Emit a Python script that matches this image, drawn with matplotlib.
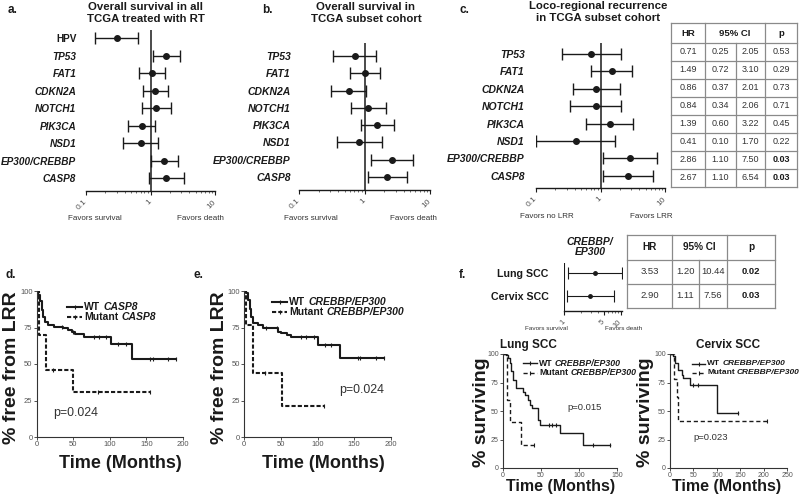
import matplotlib
matplotlib.use('Agg')
import matplotlib.pyplot as plt
from matplotlib.lines import Line2D
import numpy as np

plt.rcParams['font.family'] = ['Liberation Sans', 'DejaVu Sans']

W, H = 799, 497
fig = plt.figure(figsize=(W / 100, H / 100), dpi=100)
renderer = fig.canvas.get_renderer()

DARK = '#1a1a1a'
GRAY = '#555555'

# ---------------- data ----------------
genes_a = ['HPV', 'TP53', 'FAT1', 'CDKN2A', 'NOTCH1', 'PIK3CA', 'NSD1', 'EP300/CREBBP', 'CASP8']
hr_a = [0.30, 1.75, 1.05, 1.18, 1.22, 0.73, 0.71, 1.63, 1.75]
lo_a = [0.14, 1.11, 0.67, 0.76, 0.73, 0.44, 0.38, 1.00, 0.96]
hi_a = [0.65, 2.83, 1.69, 1.88, 2.07, 1.18, 1.32, 2.70, 3.27]

genes_bc = ['TP53', 'FAT1', 'CDKN2A', 'NOTCH1', 'PIK3CA', 'NSD1', 'EP300/CREBBP', 'CASP8']
hr_b = [0.71, 1.02, 0.57, 1.15, 1.56, 0.83, 2.61, 2.21]
lo_b = [0.33, 0.60, 0.31, 0.63, 0.88, 0.38, 1.24, 1.14]
hi_b = [1.49, 1.74, 1.07, 2.15, 2.80, 1.84, 5.50, 4.43]

hr_c = [0.71, 1.49, 0.86, 0.84, 1.39, 0.41, 2.86, 2.67]
lo_c = [0.25, 0.72, 0.37, 0.34, 0.60, 0.10, 1.10, 1.10]
hi_c = [2.05, 3.10, 2.01, 2.06, 3.22, 1.70, 7.50, 6.54]
p_c = [0.53, 0.29, 0.73, 0.71, 0.45, 0.22, 0.03, 0.03]

cancers_f = ['Lung SCC', 'Cervix SCC']
hr_f = [3.53, 2.90]
lo_f = [1.20, 1.11]
hi_f = [10.44, 7.56]
p_f = [0.02, 0.03]

forest_ticks = [0.1, 1, 10]
forest_ticklabels = ['0.1', '1', '10']
f_ticks = [1, 5, 10]
f_ticklabels = ['1', '5', '10']

# Kaplan-Meier curves (time in months, % free / surviving)
d_wt_t = [0, 2.3, 4.5, 6.8, 9.1, 11.4, 16, 23, 36, 43, 48, 52, 64, 102, 130, 190]
d_wt_s = [100, 97, 93, 87, 82, 79, 77, 75.5, 74.4, 73, 72, 70.3, 68.6, 64, 53.3, 53.3]
d_wt_c = [34, 50, 78, 85, 95, 111, 122, 155, 159, 180, 190]
d_mu_t = [0, 3, 12.3, 49, 155]
d_mu_s = [100, 69.8, 46.2, 31, 31]
d_mu_c = [22, 84, 155]

e_wt_t = [0, 3.2, 5.5, 7.7, 10, 12.3, 19, 26, 37, 46, 51, 58, 64.5, 101, 130, 190]
e_wt_s = [100, 98.4, 93.8, 88, 82.4, 77.8, 76.7, 74.8, 74.4, 72, 71, 69.8, 68.6, 63, 54.2, 54.2]
e_wt_c = [30, 45, 78, 85, 95, 110, 118, 155, 158, 180, 190]
e_mu_t = [0, 3, 12, 52, 109]
e_mu_s = [100, 76.7, 44, 21.3, 21.3]
e_mu_c = [28, 109]

lung_wt_t = [0, 4.4, 6.6, 8.8, 11, 13.2, 17.6, 26.5, 28.7, 33, 35.3, 38.4, 45.4, 48.5, 75, 105.9, 141]
lung_wt_s = [100, 99.4, 96.5, 92, 84.7, 77.4, 70.6, 67, 64, 59.7, 55.3, 52.4, 42, 37.6, 30.3, 20, 20]
lung_wt_c = [60, 65, 70, 118, 141]
lung_mu_t = [0, 5.7, 8.8, 24, 41]
lung_mu_s = [100, 59.7, 40, 20, 20]
lung_mu_c = [41]

cx_wt_t = [0, 5.7, 10.7, 17.9, 25, 28.6, 43, 100, 146]
cx_wt_s = [100, 98, 92, 86, 82, 79, 73, 48.2, 48.2]
cx_wt_c = [50, 60, 146]
cx_mu_t = [0, 8.6, 14, 18, 207]
cx_mu_s = [100, 78, 62, 41.5, 41.5]
cx_mu_c = [207]


# ---------------- helpers ----------------
def ax_px(x0, y0, x1, y1):
    return fig.add_axes([x0 / W, 1 - y1 / H, (x1 - x0) / W, (y1 - y0) / H])


def ftext(x, y, s, **kw):
    kw.setdefault('color', DARK)
    return fig.text(x / W, 1 - y / H, s, **kw)


def rich(x, y, parts, size, color=DARK):
    """parts: list of (text, style); all bold, separated by spaces"""
    cx = x
    gap = 0.278 * size * 100 / 72
    for s, style in parts:
        t = ftext(cx, y, s, fontsize=size, fontweight='bold', fontstyle=style,
                  va='center', ha='left', color=color)
        bb = t.get_window_extent(renderer)
        cx += bb.width + gap


def forest(box, labels, hr, lo, hi, xlim, ylim, ticks, ticklabels, label_pad,
           label_size=7.5, italic=True, ms=4, capsize=4.5, lw=1.0, tick_size=6):
    ax = ax_px(*box)
    ax.set_xscale('log')
    idx = np.arange(len(labels))
    hr = np.array(hr); lo = np.array(lo); hi = np.array(hi)
    ax.errorbar(hr, idx, xerr=[hr - lo, hi - hr], fmt='o', color=DARK, ms=ms,
                capsize=capsize, elinewidth=lw, capthick=lw, zorder=3)
    ax.axvline(1, color=DARK, lw=1.1, zorder=2)
    ax.set_xlim(*xlim)
    ax.set_ylim(*ylim)
    for sp in ['left', 'right', 'top']:
        ax.spines[sp].set_visible(False)
    ax.spines['bottom'].set_color(DARK)
    ax.spines['bottom'].set_linewidth(1.0)
    ax.set_yticks(idx)
    ax.set_yticklabels(labels, fontsize=label_size, fontweight='bold',
                       fontstyle='italic' if italic else 'normal', color=DARK)
    ax.tick_params(axis='y', length=0, pad=label_pad)
    ax.set_xticks(ticks)
    ax.set_xticklabels(ticklabels, rotation=45, ha='right', va='center',
                       rotation_mode='anchor', fontsize=tick_size, color=GRAY)
    ax.tick_params(axis='x', which='major', length=3, width=0.8, color=DARK, pad=4)
    ax.tick_params(axis='x', which='minor', length=1.5, width=0.6, color=GRAY)
    ax.xaxis.set_minor_formatter(matplotlib.ticker.NullFormatter())
    ax.patch.set_alpha(0)
    return ax


def table_axes(box):
    x0, y0, x1, y1 = box
    ax = ax_px(x0, y0, x1, y1)
    ax.set_xlim(x0, x1)
    ax.set_ylim(y1, y0)
    ax.axis('off')
    return ax


def draw_table(box, cols, rows, split_col, rows_data, pvals, size, header_size):
    ax = table_axes((box[0], box[1], box[2], box[3]))
    lc = '#8a8a8a'
    lw = 0.9
    top, bottom = rows[0], rows[-1]
    for y in rows:
        ax.plot([cols[0], cols[-1]], [y, y], color=lc, lw=lw, clip_on=False)
    for x in cols:
        ax.plot([x, x], [top, bottom], color=lc, lw=lw, clip_on=False)
    ax.plot([split_col, split_col], [rows[1], bottom], color=lc, lw=lw, clip_on=False)
    hy = (rows[0] + rows[1]) / 2
    ax.text((cols[0] + cols[1]) / 2, hy, 'HR', ha='center', va='center',
            fontsize=header_size, fontweight='bold', color=DARK)
    ax.text((cols[1] + cols[2]) / 2, hy, '95% CI', ha='center', va='center',
            fontsize=header_size, fontweight='bold', color=DARK)
    ax.text((cols[2] + cols[3]) / 2, hy, 'p', ha='center', va='center',
            fontsize=header_size, fontweight='bold', color=DARK)
    centers_x = [(cols[0] + cols[1]) / 2, (cols[1] + split_col) / 2,
                 (split_col + cols[2]) / 2, (cols[2] + cols[3]) / 2]
    for i, (vals, p) in enumerate(zip(rows_data, pvals)):
        y = (rows[i + 1] + rows[i + 2]) / 2
        for j, v in enumerate(vals):
            ax.text(centers_x[j], y, f'{v:.2f}', ha='center', va='center',
                    fontsize=size, color='#333333')
        ax.text(centers_x[3], y, f'{p:.2f}', ha='center', va='center', fontsize=size,
                color=DARK if p < 0.05 else '#333333',
                fontweight='bold' if p < 0.05 else 'normal')


def step_val(t, s, c):
    t = np.asarray(t); s = np.asarray(s)
    i = np.searchsorted(t, np.asarray(c), side='right') - 1
    return s[np.clip(i, 0, len(s) - 1)]


def km(box, xmax, xticks, wt, mu, lw, dash, tick_size=5.5):
    ax = ax_px(*box)
    (wt_t, wt_s, wt_c), (mu_t, mu_s, mu_c) = wt, mu
    ax.step(wt_t, wt_s, where='post', color=DARK, lw=lw)
    ax.plot(wt_c, step_val(wt_t, wt_s, wt_c), ls='none', marker='|', ms=3,
            mew=0.8, color=DARK)
    ax.step(mu_t, mu_s, where='post', color=DARK, lw=lw, ls=(0, dash))
    ax.plot(mu_c, step_val(mu_t, mu_s, mu_c), ls='none', marker='|', ms=3,
            mew=0.8, color=DARK)
    ax.set_xlim(0, xmax)
    ax.set_ylim(0, 100)
    ax.set_xticks(xticks)
    ax.set_yticks([0, 25, 50, 75, 100])
    for sp in ['right', 'top']:
        ax.spines[sp].set_visible(False)
    for sp in ['left', 'bottom']:
        ax.spines[sp].set_color('#333333')
        ax.spines[sp].set_linewidth(0.8)
    ax.tick_params(length=2, width=0.6, color='#333333', labelsize=tick_size,
                   labelcolor=GRAY, pad=1)
    ax.patch.set_alpha(0)
    return ax


def legend_rows(x_line0, x_line1, x_text, ys, labels, size, lw, dash):
    for (y, parts), ls in zip(zip(ys, labels), ['-', (0, dash)]):
        l = Line2D([x_line0 / W, x_line1 / W], [1 - y / H, 1 - y / H], color=DARK,
                   lw=lw, ls=ls, transform=fig.transFigure)
        fig.add_artist(l)
        m = Line2D([(x_line0 + x_line1) / 2 / W], [1 - y / H], marker='|', ms=3,
                   mew=0.8, color=DARK, transform=fig.transFigure, ls='none')
        fig.add_artist(m)
        rich(x_text, y, parts, size)


# ---------------- panel a ----------------
forest((86, 30, 215, 191), genes_a, hr_a, lo_a, hi_a, (0.1, 10), (8.74, -0.46),
       forest_ticks, forest_ticklabels, label_pad=7, label_size=7.2)
ax_a = fig.axes[-1]
ax_a.get_yticklabels()[0].set_fontstyle('normal')
ftext(8, 10, 'a.', fontsize=8.5, fontweight='bold', va='center')
ftext(146, 13, 'Overall survival in all\nTCGA treated with RT', fontsize=8.2,
      fontweight='bold', ha='center', va='center', linespacing=1.15)
ftext(95, 218, 'Favors survival', fontsize=5.8, ha='center', va='center', color='#333333')
ftext(200, 218, 'Favors death', fontsize=5.8, ha='center', va='center', color='#333333')

# ---------------- panel b ----------------
forest((299, 43, 430, 190), genes_bc, hr_b, lo_b, hi_b, (0.1, 10), (7.75, -0.75),
       forest_ticks, forest_ticklabels, label_pad=6)
ftext(262, 10, 'b.', fontsize=8.5, fontweight='bold', va='center')
ftext(366, 13, 'Overall survival in\nTCGA subset cohort', fontsize=8.2,
      fontweight='bold', ha='center', va='center', linespacing=1.15)
ftext(311, 218, 'Favors survival', fontsize=5.8, ha='center', va='center', color='#333333')
ftext(413, 218, 'Favors death', fontsize=5.8, ha='center', va='center', color='#333333')

# ---------------- panel c ----------------
forest((536, 43, 665, 188), genes_bc, hr_c, lo_c, hi_c, (0.1, 10), (7.7, -0.63),
       forest_ticks, forest_ticklabels, label_pad=8)
ftext(460, 10, 'c.', fontsize=8.5, fontweight='bold', va='center')
ftext(598, 12, 'Loco-regional recurrence\nin TCGA subset cohort', fontsize=8.2,
      fontweight='bold', ha='center', va='center', linespacing=1.15)
ftext(547, 216, 'Favors no LRR', fontsize=5.8, ha='center', va='center', color='#333333')
ftext(651, 216, 'Favors LRR', fontsize=5.8, ha='center', va='center', color='#333333')

draw_table((671, 23, 797, 187), [671, 705, 765, 797],
           [23, 43] + [43 + 18 * (i + 1) for i in range(8)], 736,
           list(zip(hr_c, lo_c, hi_c)), p_c, size=6.5, header_size=6.8)

# ---------------- panel d ----------------
km((36.7, 291, 183, 437), 200, [0, 50, 100, 150, 200],
   (d_wt_t, d_wt_s, d_wt_c), (d_mu_t, d_mu_s, d_mu_c), lw=1.5, dash=(2, 1))
ftext(5, 275, 'd.', fontsize=8.5, fontweight='bold', va='center')
ftext(12, 368, '% free from LRR', fontsize=14, fontweight='bold', rotation=90,
      ha='center', va='center')
ftext(120, 464, 'Time (Months)', fontsize=13, fontweight='bold', ha='center', va='center')
ftext(53, 413, 'p=0.024', fontsize=8.9, ha='left', va='center', color='#333333')
legend_rows(67, 82, 84, [307, 317], [[('WT', 'normal'), ('CASP8', 'italic')],
                                      [('Mutant', 'normal'), ('CASP8', 'italic')]],
            7.5, 1.5, (2, 1))

# ---------------- panel e ----------------
km((244, 291, 391, 437), 200, [0, 50, 100, 150, 200],
   (e_wt_t, e_wt_s, e_wt_c), (e_mu_t, e_mu_s, e_mu_c), lw=1.5, dash=(2, 1))
ftext(194, 275, 'e.', fontsize=8.5, fontweight='bold', va='center')
ftext(219, 368, '% free from LRR', fontsize=14, fontweight='bold', rotation=90,
      ha='center', va='center')
ftext(323, 464, 'Time (Months)', fontsize=13, fontweight='bold', ha='center', va='center')
ftext(339, 390, 'p=0.024', fontsize=8.9, ha='left', va='center', color='#333333')
legend_rows(272, 287, 289, [302, 312], [[('WT', 'normal'), ('CREBBP/EP300', 'italic')],
                                         [('Mutant', 'normal'), ('CREBBP/EP300', 'italic')]],
            7.5, 1.5, (2, 1))

# ---------------- panel f ----------------
forest((564, 263, 622, 311), cancers_f, hr_f, lo_f, hi_f, (1, 10.6), (1.62, -0.4),
       f_ticks, f_ticklabels, label_pad=11, label_size=7.7, italic=False, ms=2.5,
       capsize=4, lw=0.8, tick_size=5.5)
ax_f = fig.axes[-1]
ax_f.axvline(1, color=DARK, lw=1.5, zorder=2)
ftext(459, 275, 'f.', fontsize=8.5, fontweight='bold', va='center')
ftext(590, 247, 'CREBBP/\nEP300', fontsize=7.5, fontweight='bold', fontstyle='italic',
      ha='center', va='center', linespacing=1.05)
ftext(546, 328, 'Favors survival', fontsize=4.6, ha='center', va='center', color='#333333')
ftext(624, 329, 'Favors death', fontsize=4.6, ha='center', va='center', color='#333333')
draw_table((627, 235, 775, 308), [627, 672, 727, 775], [235, 260, 284, 308], 699,
           list(zip(hr_f, lo_f, hi_f)), p_f, size=6.8, header_size=7.2)

# Lung SCC KM
km((503, 354, 617, 468), 150, [0, 50, 100, 150],
   (lung_wt_t, lung_wt_s, lung_wt_c), (lung_mu_t, lung_mu_s, lung_mu_c),
   lw=1.0, dash=(3, 2), tick_size=5)
ftext(528, 345, 'Lung SCC', fontsize=8.5, fontweight='bold', ha='center', va='center')
ftext(481, 412, '% surviving', fontsize=14, fontweight='bold', rotation=90,
      ha='center', va='center')
ftext(561, 487, 'Time (Months)', fontsize=11.5, fontweight='bold', ha='center', va='center')
ftext(567, 408, 'p=0.015', fontsize=6.8, ha='left', va='center', color='#333333')
legend_rows(523, 537, 539, [363, 372.5], [[('WT', 'normal'), ('CREBBP/EP300', 'italic')],
                                          [('Mutant', 'normal'), ('CREBBP/EP300', 'italic')]],
            6.3, 1.0, (3, 2))

# Cervix SCC KM
km((670, 354, 787, 468), 250, [0, 50, 100, 150, 200, 250],
   (cx_wt_t, cx_wt_s, cx_wt_c), (cx_mu_t, cx_mu_s, cx_mu_c),
   lw=1.0, dash=(3, 2), tick_size=5)
ftext(728, 345, 'Cervix SCC', fontsize=8.5, fontweight='bold', ha='center', va='center')
ftext(645, 412, '% surviving', fontsize=14, fontweight='bold', rotation=90,
      ha='center', va='center')
ftext(727, 487, 'Time (Months)', fontsize=11.5, fontweight='bold', ha='center', va='center')
ftext(693, 437, 'p=0.023', fontsize=6.8, ha='left', va='center', color='#333333')
legend_rows(692, 705, 707, [363.5, 372.5], [[('WT', 'normal'), ('CREBBP/EP300', 'italic')],
                                            [('Mutant', 'normal'), ('CREBBP/EP300', 'italic')]],
            6.0, 1.0, (3, 2))

fig.savefig('out.png', dpi=100)
